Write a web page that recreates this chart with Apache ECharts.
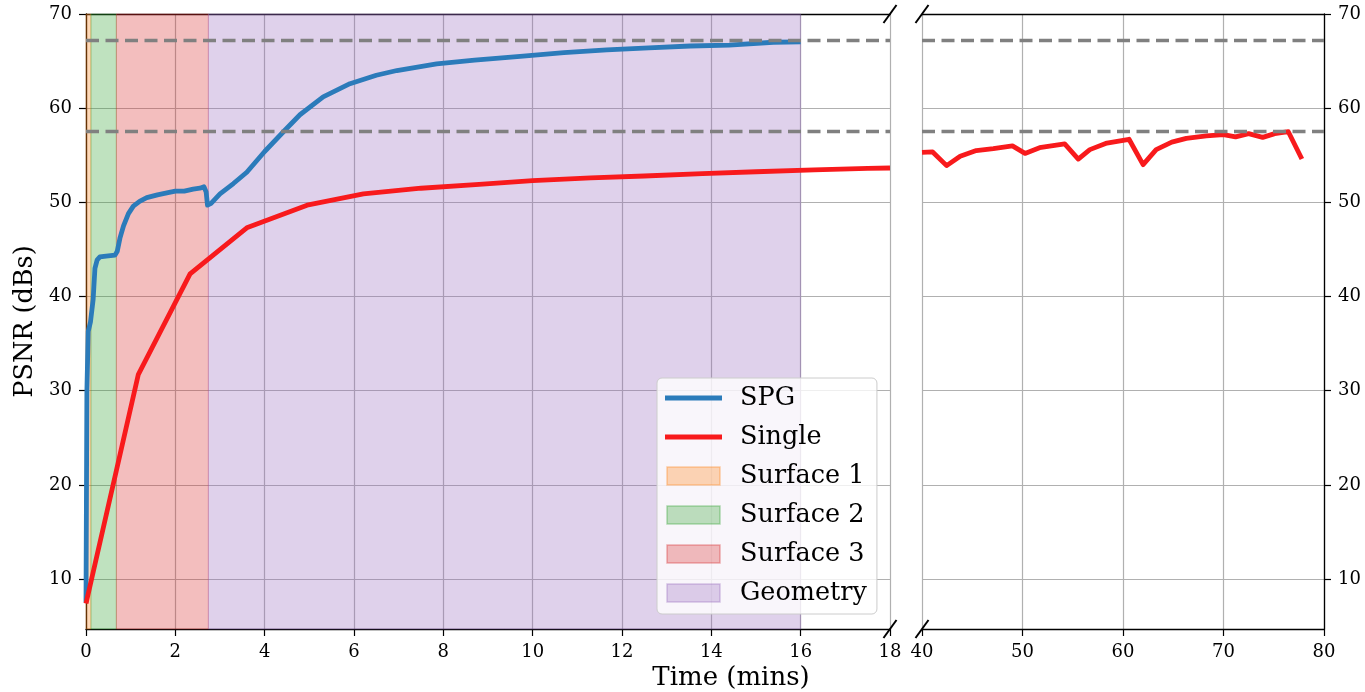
<!DOCTYPE html>
<html>
<head>
<meta charset="utf-8">
<title>PSNR vs time</title>
<script src="https://cdn.jsdelivr.net/npm/echarts@6/dist/echarts.min.js"></script>
<style>
  html, body { margin: 0; padding: 0; background: #fff; }
  #chart { width: 1365px; height: 692px; }
</style>
</head>
<body>
<div id="chart"></div>
<script>
// SPG run, left panel only (minutes)
const spgTime = [0, 0.02, 0.05, 0.1, 0.16, 0.2, 0.25, 0.31, 0.45, 0.65, 0.7, 0.76, 0.84, 0.95, 1.06, 1.2, 1.36, 1.6, 1.81, 2.0, 2.2, 2.4, 2.55, 2.64, 2.69, 2.72, 2.8, 3.0, 3.3, 3.6, 4.0, 4.42, 4.79, 5.31, 5.91, 6.5, 6.96, 7.85, 8.7, 9.72, 10.7, 11.66, 12.6, 13.53, 14.4, 15.39, 16.0]
const spgPsnr = [7.5, 30, 36.3, 37.3, 39.7, 43.0, 43.9, 44.2, 44.3, 44.4, 44.8, 46.2, 47.5, 48.8, 49.6, 50.1, 50.5, 50.8, 51.0, 51.2, 51.2, 51.4, 51.5, 51.65, 51.1, 49.7, 49.9, 50.9, 52.0, 53.2, 55.4, 57.5, 59.3, 61.2, 62.6, 63.5, 64.0, 64.7, 65.1, 65.5, 65.9, 66.2, 66.4, 66.6, 66.7, 67.0, 67.05]

// Single run, left panel
const singleTime = [0, 1.17, 2.33, 3.6, 4.95, 6.21, 7.5, 8.8, 10.0, 11.3, 12.5, 13.8, 15.0, 16.3, 17.5, 18.0]
const singlePsnr = [7.4, 31.7, 42.4, 47.3, 49.7, 50.9, 51.5, 51.9, 52.3, 52.6, 52.8, 53.05, 53.25, 53.45, 53.6, 53.65]

// Single run, right panel
const singleTimeLate = [40, 41.06, 42.45, 43.8, 45.4, 47.1, 49.0, 50.25, 51.7, 54.2, 55.55, 56.7, 58.4, 60.6, 62.0, 63.3, 64.85, 66.3, 68.3, 70.0, 71.2, 72.5, 73.9, 75.1, 76.45, 77.8]
const singlePsnrLate = [55.3, 55.35, 53.9, 54.9, 55.5, 55.7, 56.0, 55.2, 55.8, 56.2, 54.6, 55.6, 56.3, 56.7, 54.0, 55.6, 56.4, 56.8, 57.05, 57.2, 56.95, 57.3, 56.9, 57.3, 57.5, 54.6]

// training stages (start/end in minutes)
const stageNames = ['Surface 1', 'Surface 2', 'Surface 3', 'Geometry']
const stageEdges = [0, 0.11, 0.68, 2.74, 16.0]

const refLevels = [67.2, 57.6]
const yTicks = [10, 20, 30, 40, 50, 60, 70]

const FONT = 'DejaVu Serif'
const stageRgb = ['255,127,14', '44,160,44', '214,39,40', '148,103,189']
const BLUE = '#2b7bba'
const RED = '#f81a1c'

const g0 = { left: 86, top: 14, width: 804, height: 615 }
const g1 = { left: 922, top: 14, width: 402, height: 615 }

const pairs = (xs, ys) => xs.map((x, i) => [x, ys[i]])

const gridLine = { show: true, lineStyle: { color: '#b0b0b0', width: 1.2 } }
const spine = { show: true, lineStyle: { color: '#000', width: 1.3 } }
const tick = { show: true, inside: false, length: 7, lineStyle: { color: '#000', width: 1.2 } }
const tickLabel = { color: '#000', fontFamily: FONT, fontSize: 18 }

const series = []
series.push({
  name: 'SPG', type: 'line', xAxisIndex: 0, yAxisIndex: 0,
  data: pairs(spgTime, spgPsnr), showSymbol: false, z: 3,
  lineStyle: { color: BLUE, width: 4.8, join: 'round' }, itemStyle: { color: BLUE }
})
series.push({
  name: 'Single', type: 'line', xAxisIndex: 0, yAxisIndex: 0,
  data: pairs(singleTime, singlePsnr), showSymbol: false, z: 3,
  lineStyle: { color: RED, width: 4.8, join: 'round' }, itemStyle: { color: RED }
})
series.push({
  name: 'Single', type: 'line', xAxisIndex: 1, yAxisIndex: 1,
  data: pairs(singleTimeLate, singlePsnrLate), showSymbol: false, z: 3,
  lineStyle: { color: RED, width: 4.8, join: 'round' }, itemStyle: { color: RED }
})
stageNames.forEach((name, i) => {
  series.push({
    name: name, type: 'line', xAxisIndex: 0, yAxisIndex: 0, data: [], z: 1,
    itemStyle: { color: 'rgba(' + stageRgb[i] + ',0.3)' },
    markArea: {
      silent: true,
      itemStyle: { color: 'rgba(' + stageRgb[i] + ',0.3)', borderColor: 'rgba(' + stageRgb[i] + ',0.3)', borderWidth: 1 },
      data: [[{ xAxis: stageEdges[i] }, { xAxis: stageEdges[i + 1] }]]
    }
  })
})
// dashed reference levels in both panels
;[0, 1].forEach(k => {
  series.push({
    name: 'ref' + k, type: 'line', xAxisIndex: k, yAxisIndex: k, data: [], z: 4,
    markLine: {
      silent: true, symbol: 'none', label: { show: false },
      lineStyle: { color: '#808080', width: 3.3, type: [13, 6.5] },
      data: refLevels.map(v => ({ yAxis: v }))
    }
  })
})

const legendData = [
  { name: 'SPG', icon: 'path://M0,0H57V5H0Z', itemStyle: { color: BLUE, borderWidth: 0 } },
  { name: 'Single', icon: 'path://M0,0H57V5H0Z', itemStyle: { color: RED, borderWidth: 0 } }
].concat(stageNames.map((name, i) => ({
  name: name, icon: 'path://M0,0H53V18H0Z',
  itemStyle: { color: 'rgba(' + stageRgb[i] + ',0.3)', borderColor: 'rgba(' + stageRgb[i] + ',0.35)', borderWidth: 1.5 }
})))

// diagonal break marks at the inner corners of the two panels
const breaks = []
;[g0.left + g0.width, g1.left].forEach(x => {
  ;[g0.top, g0.top + g0.height].forEach(y => {
    breaks.push({
      type: 'line', z: 10,
      shape: { x1: x - 6.5, y1: y + 9, x2: x + 6.5, y2: y - 9 },
      style: { stroke: '#000', lineWidth: 2 }
    })
  })
})

const option = {
  animation: false,
  backgroundColor: '#fff',
  grid: [
    Object.assign({ containLabel: false }, g0),
    Object.assign({ containLabel: false }, g1)
  ],
  legend: {
    data: legendData,
    orient: 'vertical',
    left: 657, top: 378,
    itemWidth: 57, itemHeight: 18, itemGap: 13,
    padding: [7, 10, 8, 8],
    backgroundColor: 'rgba(255,255,255,0.8)',
    borderColor: '#cccccc', borderWidth: 1, borderRadius: 5,
    selectedMode: false,
    textStyle: { fontFamily: FONT, fontSize: 25.5, color: '#000', lineHeight: 26, padding: [0, 0, 0, 13] }
  },
  xAxis: [
    {
      type: 'value', gridIndex: 0, position: 'bottom', min: 0, max: 18, interval: 2,
      axisLine: spine, axisTick: tick, splitLine: gridLine,
      axisLabel: Object.assign({ margin: 14 }, tickLabel)
    },
    {
      type: 'value', gridIndex: 1, position: 'bottom', min: 40, max: 80, interval: 10,
      axisLine: spine, axisTick: tick, splitLine: gridLine,
      axisLabel: Object.assign({ margin: 14 }, tickLabel)
    },
    {
      type: 'value', gridIndex: 0, position: 'top', min: 0, max: 18,
      axisLine: spine, axisTick: { show: false }, axisLabel: { show: false }, splitLine: { show: false }
    },
    {
      type: 'value', gridIndex: 1, position: 'top', min: 40, max: 80,
      axisLine: spine, axisTick: { show: false }, axisLabel: { show: false }, splitLine: { show: false }
    }
  ],
  yAxis: [
    {
      type: 'value', gridIndex: 0, position: 'left', min: 4.7, max: 70,
      name: 'PSNR (dBs)', nameLocation: 'middle', nameGap: 46,
      nameTextStyle: { fontFamily: FONT, fontSize: 25.5, color: '#000' },
      axisLine: spine,
      axisTick: Object.assign({ customValues: yTicks }, tick),
      axisLabel: Object.assign({ customValues: yTicks, margin: 14 }, tickLabel),
      splitLine: gridLine
    },
    {
      type: 'value', gridIndex: 1, position: 'right', min: 4.7, max: 70,
      axisLine: spine,
      axisTick: Object.assign({ customValues: yTicks }, tick),
      axisLabel: Object.assign({ customValues: yTicks, margin: 14 }, tickLabel),
      splitLine: gridLine
    }
  ],
  graphic: breaks.concat([{
    type: 'text', x: 731, y: 678, z: 10,
    style: { text: 'Time (mins)', fontFamily: FONT, fontSize: 26, fill: '#000', textAlign: 'center', textVerticalAlign: 'middle' }
  }]),
  series: series
}

const chart = echarts.init(document.getElementById('chart'))
chart.setOption(option)
</script>
</body>
</html>
